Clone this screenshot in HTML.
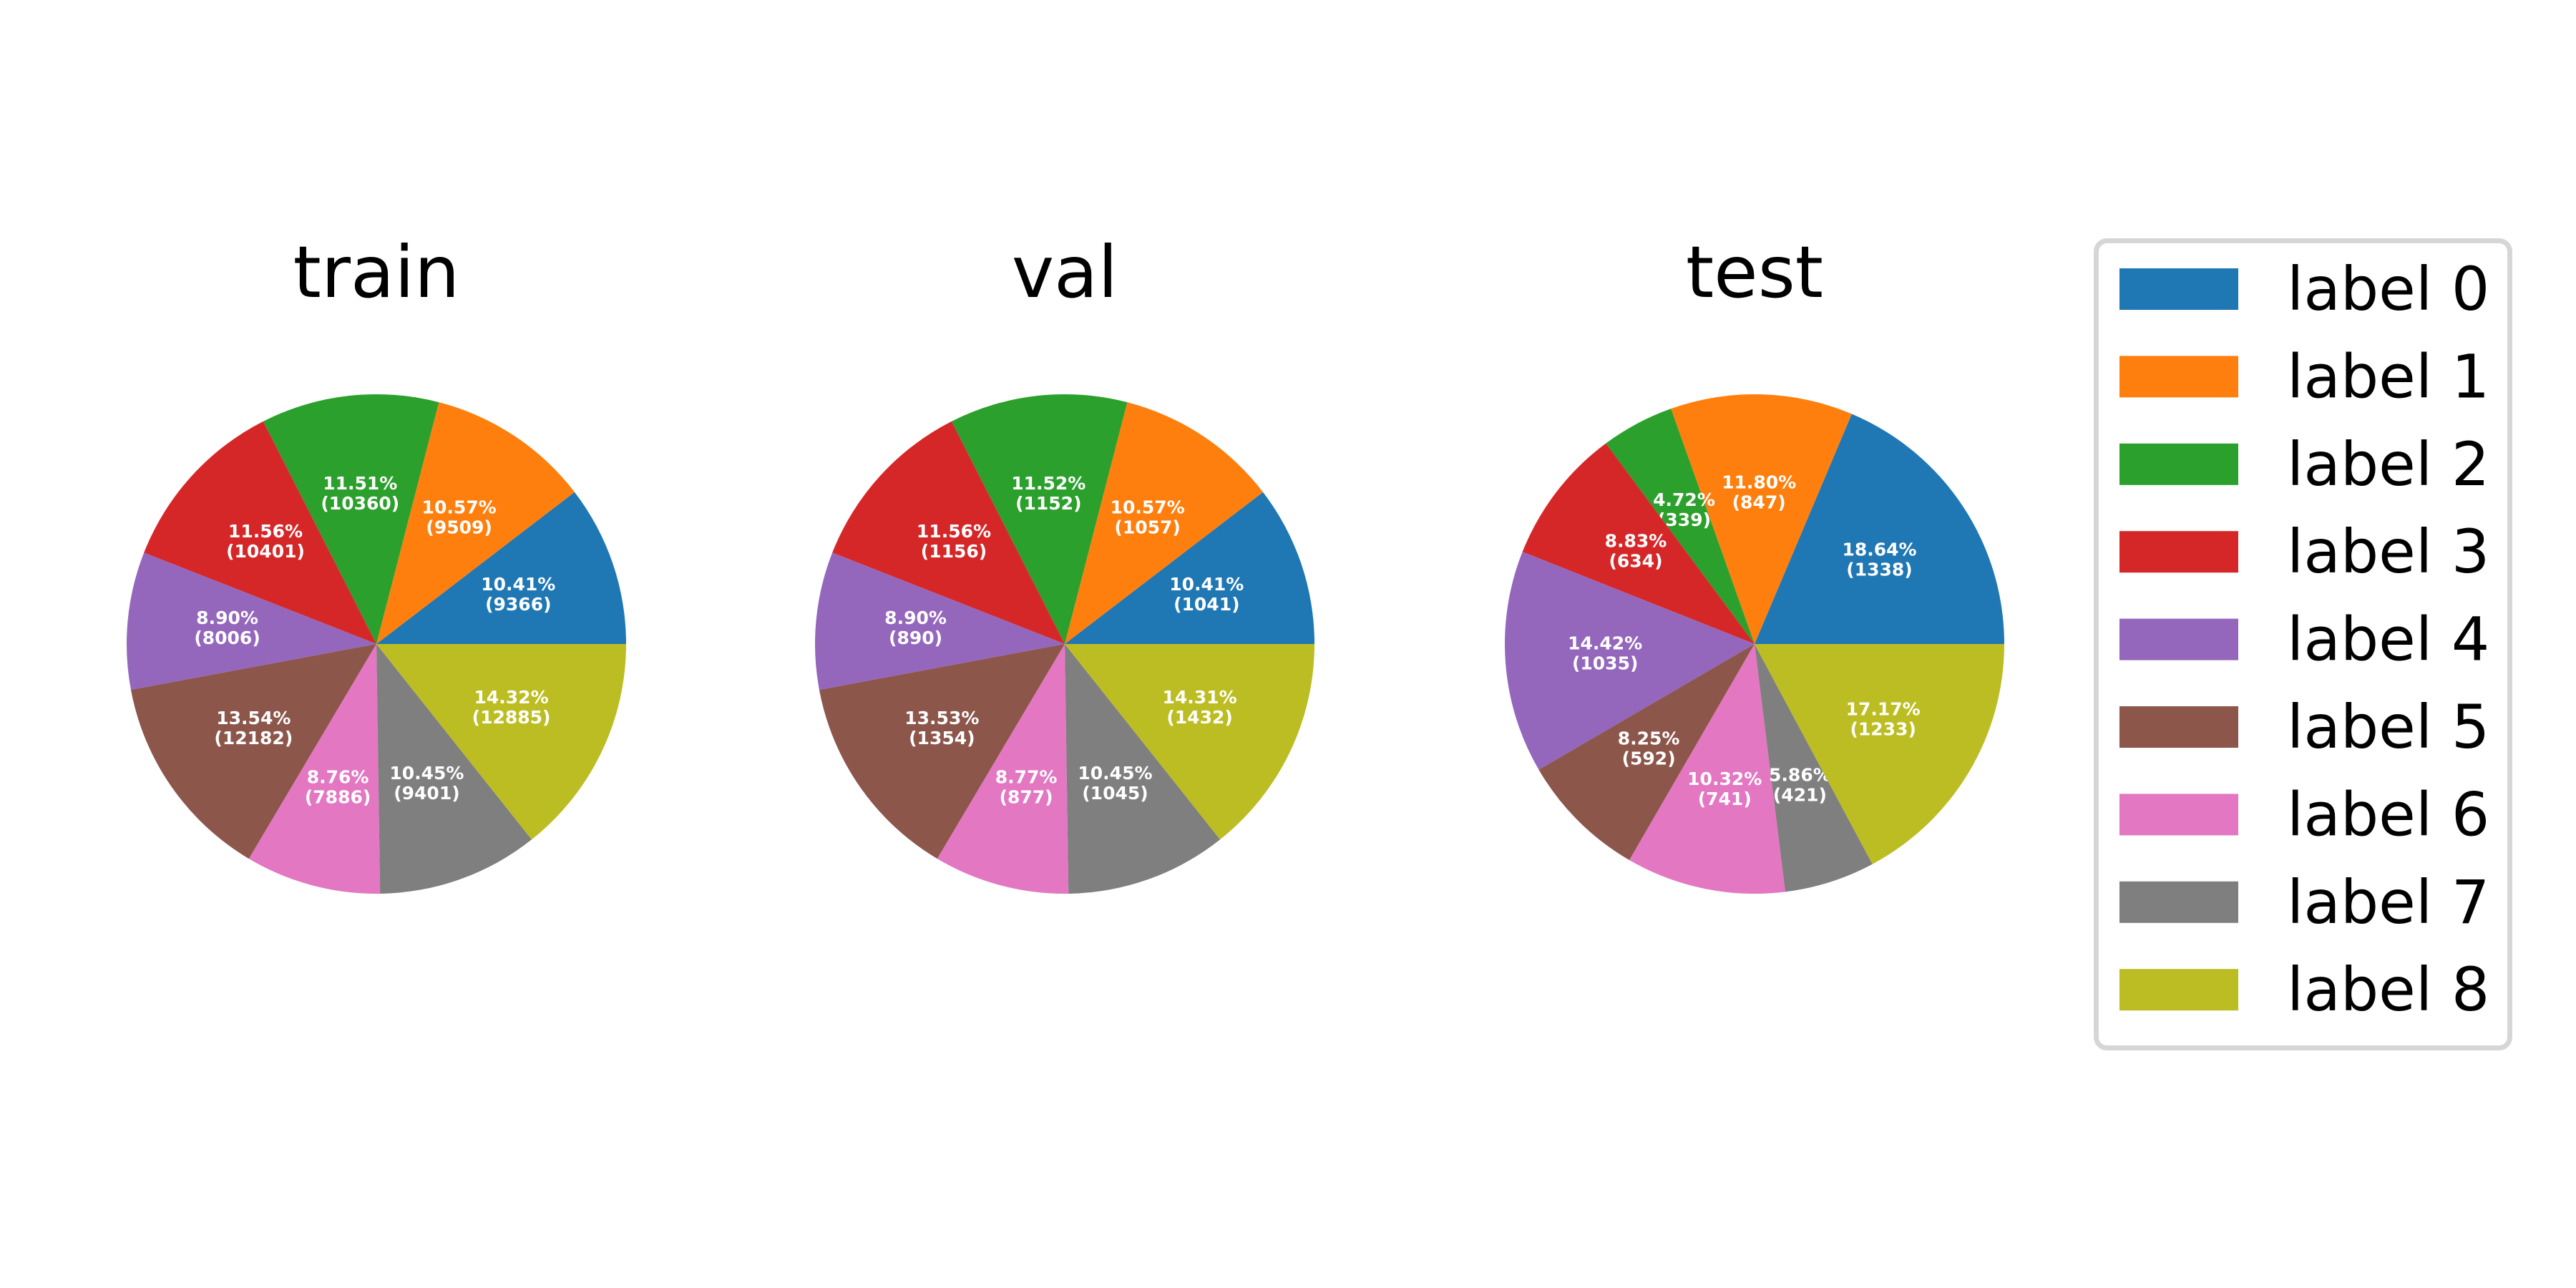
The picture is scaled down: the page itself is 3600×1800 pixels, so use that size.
<!DOCTYPE html>
<html><head><meta charset="utf-8"><style>
html,body{margin:0;padding:0;background:#fff;}
svg{display:block;font-family:"DejaVu Sans","Liberation Sans",sans-serif;}
</style></head><body>
<svg id="chart" width="3600" height="1800" viewBox="0 0 3600 1800" xmlns="http://www.w3.org/2000/svg">
<rect width="3600" height="1800" fill="#fff"/>
<g id="pies"></g>
<g id="legend">
<rect x="2929.5" y="336.5" width="578" height="1128" rx="15" fill="#fff" stroke="#d6d6d6" stroke-width="7"/>
</g>
</svg>
<script>
const labels = ["label 0","label 1","label 2","label 3","label 4","label 5","label 6","label 7","label 8"];
const colors = ["#1f77b4","#ff7f0e","#2ca02c","#d62728","#9467bd","#8c564b","#e377c2","#7f7f7f","#bcbd22"];
const splitNames = ["train","val","test"];
const trainCounts = [9366,9509,10360,10401,8006,12182,7886,9401,12885];
const valCounts = [1041,1057,1152,1156,890,1354,877,1045,1432];
const testCounts = [1338,847,339,634,1035,592,741,421,1233];

const NS = "http://www.w3.org/2000/svg";
const pies = document.getElementById('pies');
const legend = document.getElementById('legend');
const centersX = [526, 1488, 2452];
const CY = 900, R = 349;
const allCounts = [trainCounts, valCounts, testCounts];

function mk(tag, attrs){ const e=document.createElementNS(NS,tag); for(const k in attrs) e.setAttribute(k,attrs[k]); return e; }

allCounts.forEach((counts, si) => {
  const cx = centersX[si];
  const g = mk('g', {});
  
  
  pies.appendChild(g);
  const title = mk('text', {x: cx, y: 415, 'font-size': 100, 'text-anchor': 'middle', fill: '#000'});
  
  
  title.textContent = splitNames[si];
  g.appendChild(title);
  const total = counts.reduce((a,b)=>a+b,0);
  let a0 = 0;
  counts.forEach((c, i) => {
    const frac = c / total;
    const a1 = a0 + frac * 2 * Math.PI;
    const x0 = cx + R*Math.cos(a0), y0 = CY - R*Math.sin(a0);
    const x1 = cx + R*Math.cos(a1), y1 = CY - R*Math.sin(a1);
    const large = (a1 - a0) > Math.PI ? 1 : 0;
    const p = mk('path', {d: `M${cx},${CY} L${x0},${y0} A${R},${R} 0 ${large} 0 ${x1},${y1} Z`, fill: colors[i]});
    
    
    g.appendChild(p);
    const am = (a0 + a1) / 2;
    const lx = cx + 0.6*R*Math.cos(am), ly = CY - 0.6*R*Math.sin(am);
    const t = mk('text', {x: lx, y: ly, 'font-size': 25, 'font-weight': 'bold', fill: '#fff', 'text-anchor': 'middle'});
    
    
    const s1 = mk('tspan', {x: lx, dy: -8}); s1.textContent = (frac*100).toFixed(2) + '%';
    const s2 = mk('tspan', {x: lx, dy: 28}); s2.textContent = '(' + c + ')';
    t.appendChild(s1); t.appendChild(s2);
    g.appendChild(t);
    a0 = a1;
  });
});

labels.forEach((lab, i) => {
  const y = 375 + 122.4*i;
  const r = mk('rect', {x: 2962, y: y, width: 166, height: 58, fill: colors[i]});
  
  
  legend.appendChild(r);
  const t = mk('text', {x: 3196, y: y + 58, 'font-size': 84, fill: '#000'});
  
  
  t.textContent = lab;
  legend.appendChild(t);
});
</script>
</body></html>
